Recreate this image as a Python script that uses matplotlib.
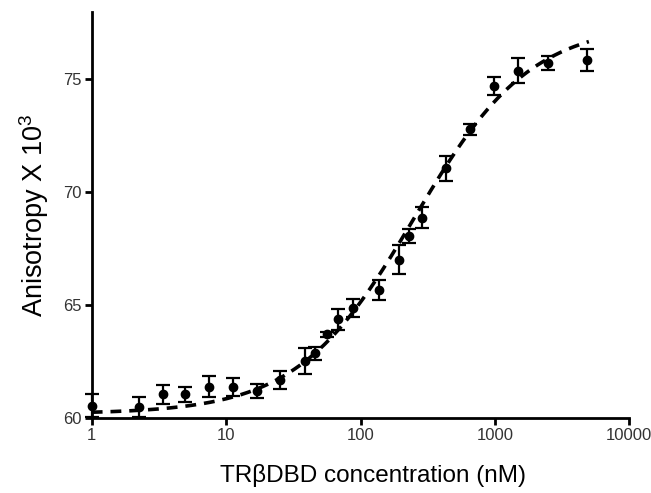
import numpy as np
import matplotlib.pyplot as plt

plt.rcParams['font.family'] = ['Liberation Sans', 'DejaVu Sans']

# -----------------------------
# Data
# -----------------------------
conc = [1, 2.26, 3.37, 4.94, 7.46, 11.3, 16.9, 25.2, 38.6, 45.9, 56.1,
        68.4, 88.5, 138, 193, 231, 288, 433, 653, 985, 1493, 2496, 4870]
aniso = [60.56, 60.51, 61.06, 61.06, 61.40, 61.40, 61.21, 61.70, 62.54, 62.88, 63.72,
         64.38, 64.87, 65.68, 67.03, 68.07, 68.88, 71.06, 72.80, 74.70, 75.38, 75.73, 75.85]
err = [0.50, 0.45, 0.41, 0.34, 0.47, 0.40, 0.31, 0.41, 0.56, 0.29, 0.10,
       0.46, 0.40, 0.44, 0.63, 0.31, 0.46, 0.54, 0.25, 0.40, 0.55, 0.30, 0.49]

# fitted binding curve parameters (bottom, top, EC50, hill)
fit_bottom = 60.2
fit_top = 77.5
fit_ec50 = 250.0
fit_hill = 1.0


def binding(c):
    return fit_bottom + (fit_top - fit_bottom) * c**fit_hill / (fit_ec50**fit_hill + c**fit_hill)


c_fit = np.logspace(0, np.log10(5000), 300)

# -----------------------------
# Plot
# -----------------------------
fig = plt.figure(figsize=(6.51, 4.93), dpi=100)
ax = fig.add_axes([0.1409, 0.1515, 0.8258, 0.8248])

ax.plot(c_fit, binding(c_fit), color='black', lw=2.6, ls=(0, (3, 2.2)), zorder=2)
ax.errorbar(conc, aniso, yerr=err, fmt='o', color='black', ms=6,
            elinewidth=1.6, capsize=5, capthick=1.6, zorder=3, clip_on=False)

ax.set_xscale('log')
ax.set_xlim(1, 10000)
ax.set_ylim(60, 78)
ax.set_xticks([1, 10, 100, 1000, 10000])
ax.set_xticklabels(['1', '10', '100', '1000', '10000'])
ax.minorticks_off()
ax.set_yticks([60, 65, 70, 75])

for s in ['top', 'right']:
    ax.spines[s].set_visible(False)
for s in ['left', 'bottom']:
    ax.spines[s].set_linewidth(2.0)

ax.tick_params(direction='out', length=5, width=2.0, labelsize=12, pad=2,
               colors='black', labelcolor='#333333')

ax.set_xlabel('TR\u03b2DBD concentration (nM)', fontsize=17.5, labelpad=15, x=0.523)
ax.set_ylabel('Anisotropy X 10$^{\\mathregular{3}}$', fontsize=19.5, labelpad=9)

fig.savefig('out.png', dpi=100)
